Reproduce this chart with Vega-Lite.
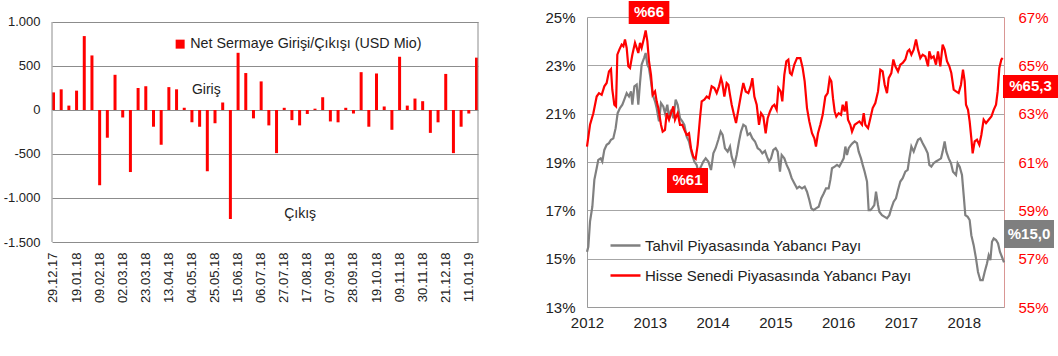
{
  "$schema": "https://vega.github.io/schema/vega-lite/v6.json",
  "background": "white",
  "padding": {"left": 3, "top": 1, "right": 0, "bottom": 0},
  "spacing": 65,
  "config": {
    "font": "Liberation Sans",
    "view": {"stroke": null},
    "axis": {"ticks": false, "labelFont": "Liberation Sans"},
    "legend": {"labelFont": "Liberation Sans", "labelLimit": 500}
  },
  "resolve": {"scale": {"color": "independent"}, "legend": {"color": "independent"}},
  "datasets": {
    "flows": [
      {"d": "29.12.17", "v": 200}, {"d": "05.01.18", "v": 235}, {"d": "12.01.18", "v": 50}, {"d": "19.01.18", "v": 220},
      {"d": "26.01.18", "v": 840}, {"d": "02.02.18", "v": 620}, {"d": "09.02.18", "v": -855}, {"d": "16.02.18", "v": -315},
      {"d": "23.02.18", "v": 400}, {"d": "02.03.18", "v": -85}, {"d": "09.03.18", "v": -705}, {"d": "16.03.18", "v": 250},
      {"d": "23.03.18", "v": 270}, {"d": "30.03.18", "v": -190}, {"d": "06.04.18", "v": -395}, {"d": "13.04.18", "v": 260},
      {"d": "20.04.18", "v": 235}, {"d": "27.04.18", "v": 25}, {"d": "04.05.18", "v": -140}, {"d": "11.05.18", "v": -190},
      {"d": "18.05.18", "v": -695}, {"d": "25.05.18", "v": -150}, {"d": "01.06.18", "v": 85}, {"d": "08.06.18", "v": -1240},
      {"d": "15.06.18", "v": 650}, {"d": "22.06.18", "v": 420}, {"d": "29.06.18", "v": -95}, {"d": "06.07.18", "v": 325},
      {"d": "13.07.18", "v": -175}, {"d": "20.07.18", "v": -490}, {"d": "27.07.18", "v": 25}, {"d": "03.08.18", "v": -115},
      {"d": "10.08.18", "v": -175}, {"d": "17.08.18", "v": -45}, {"d": "24.08.18", "v": 15}, {"d": "31.08.18", "v": 145},
      {"d": "07.09.18", "v": -130}, {"d": "14.09.18", "v": -140}, {"d": "21.09.18", "v": 25}, {"d": "28.09.18", "v": -40},
      {"d": "05.10.18", "v": 430}, {"d": "12.10.18", "v": -190}, {"d": "19.10.18", "v": 415}, {"d": "26.10.18", "v": 40},
      {"d": "02.11.18", "v": -225}, {"d": "09.11.18", "v": 605}, {"d": "16.11.18", "v": 50}, {"d": "23.11.18", "v": 130},
      {"d": "30.11.18", "v": 100}, {"d": "07.12.18", "v": -260}, {"d": "14.12.18", "v": -140}, {"d": "21.12.18", "v": 410},
      {"d": "28.12.18", "v": -490}, {"d": "04.01.19", "v": -190}, {"d": "11.01.19", "v": -40}, {"d": "18.01.19", "v": 595}
    ],
    "notes": [
      {"d": "04.05.18", "v": 230, "t": "Giriş"},
      {"d": "27.07.18", "v": -1180, "t": "Çıkış"}
    ],
    "bond": [
      {"t":2012.000,"v":15.28},{"t":2012.021,"v":15.49},{"t":2012.048,"v":16.53},{"t":2012.085,"v":17.15},{"t":2012.117,"v":18.26},
      {"t":2012.154,"v":18.74},{"t":2012.180,"v":19.09},{"t":2012.218,"v":19.15},{"t":2012.244,"v":19.02},{"t":2012.276,"v":19.50},
      {"t":2012.313,"v":19.71},{"t":2012.350,"v":19.78},{"t":2012.382,"v":19.92},{"t":2012.419,"v":19.98},{"t":2012.456,"v":20.40},
      {"t":2012.488,"v":21.02},{"t":2012.525,"v":21.23},{"t":2012.563,"v":21.37},{"t":2012.594,"v":21.58},{"t":2012.632,"v":21.85},
      {"t":2012.669,"v":21.71},{"t":2012.701,"v":21.92},{"t":2012.722,"v":21.37},{"t":2012.754,"v":22.13},{"t":2012.791,"v":22.20},
      {"t":2012.817,"v":21.37},{"t":2012.844,"v":22.27},{"t":2012.870,"v":23.03},{"t":2012.908,"v":23.30},{"t":2012.934,"v":23.51},
      {"t":2012.961,"v":23.03},{"t":2012.987,"v":22.89},{"t":2013.019,"v":22.34},{"t":2013.046,"v":21.78},{"t":2013.083,"v":21.51},
      {"t":2013.109,"v":21.23},{"t":2013.146,"v":20.68},{"t":2013.178,"v":21.44},{"t":2013.215,"v":21.30},{"t":2013.242,"v":21.02},
      {"t":2013.279,"v":21.37},{"t":2013.306,"v":20.81},{"t":2013.338,"v":21.16},{"t":2013.375,"v":20.81},{"t":2013.412,"v":21.58},
      {"t":2013.444,"v":21.37},{"t":2013.481,"v":20.81},{"t":2013.518,"v":20.68},{"t":2013.550,"v":20.54},{"t":2013.587,"v":20.05},
      {"t":2013.624,"v":19.85},{"t":2013.667,"v":19.36},{"t":2013.709,"v":19.02},{"t":2013.746,"v":18.88},{"t":2013.773,"v":18.60},
      {"t":2013.815,"v":18.81},{"t":2013.852,"v":19.02},{"t":2013.890,"v":19.15},{"t":2013.932,"v":19.02},{"t":2013.975,"v":18.67},
      {"t":2014.012,"v":19.36},{"t":2014.049,"v":19.57},{"t":2014.091,"v":19.92},{"t":2014.128,"v":20.26},{"t":2014.160,"v":20.12},
      {"t":2014.197,"v":19.57},{"t":2014.240,"v":19.43},{"t":2014.277,"v":19.64},{"t":2014.304,"v":19.22},{"t":2014.346,"v":18.88},
      {"t":2014.383,"v":19.29},{"t":2014.420,"v":19.85},{"t":2014.452,"v":20.26},{"t":2014.489,"v":20.54},{"t":2014.527,"v":20.47},
      {"t":2014.558,"v":20.12},{"t":2014.596,"v":20.19},{"t":2014.633,"v":19.98},{"t":2014.675,"v":19.85},{"t":2014.718,"v":19.57},
      {"t":2014.755,"v":19.50},{"t":2014.792,"v":19.36},{"t":2014.834,"v":19.46},{"t":2014.866,"v":19.22},{"t":2014.898,"v":19.02},
      {"t":2014.930,"v":19.15},{"t":2014.967,"v":19.50},{"t":2015.004,"v":19.57},{"t":2015.036,"v":19.43},{"t":2015.073,"v":18.60},
      {"t":2015.100,"v":19.29},{"t":2015.142,"v":19.15},{"t":2015.179,"v":18.88},{"t":2015.217,"v":18.67},{"t":2015.259,"v":18.33},
      {"t":2015.301,"v":18.12},{"t":2015.344,"v":17.91},{"t":2015.381,"v":17.98},{"t":2015.424,"v":17.91},{"t":2015.466,"v":17.98},
      {"t":2015.503,"v":17.77},{"t":2015.540,"v":17.43},{"t":2015.572,"v":17.08},{"t":2015.609,"v":17.01},{"t":2015.646,"v":17.08},
      {"t":2015.689,"v":17.15},{"t":2015.731,"v":17.50},{"t":2015.769,"v":17.70},{"t":2015.806,"v":17.91},{"t":2015.848,"v":17.91},
      {"t":2015.875,"v":18.26},{"t":2015.901,"v":18.74},{"t":2015.944,"v":18.81},{"t":2015.981,"v":18.88},{"t":2016.018,"v":18.81},
      {"t":2016.061,"v":19.02},{"t":2016.087,"v":19.15},{"t":2016.114,"v":19.64},{"t":2016.140,"v":19.29},{"t":2016.167,"v":19.57},
      {"t":2016.204,"v":19.71},{"t":2016.230,"v":19.78},{"t":2016.262,"v":19.85},{"t":2016.299,"v":19.78},{"t":2016.326,"v":19.43},
      {"t":2016.363,"v":19.15},{"t":2016.390,"v":18.88},{"t":2016.421,"v":18.60},{"t":2016.459,"v":18.19},{"t":2016.485,"v":17.01},
      {"t":2016.512,"v":17.01},{"t":2016.538,"v":17.08},{"t":2016.575,"v":17.22},{"t":2016.602,"v":17.77},{"t":2016.634,"v":17.22},
      {"t":2016.655,"v":16.94},{"t":2016.697,"v":16.80},{"t":2016.740,"v":16.73},{"t":2016.777,"v":16.67},{"t":2016.814,"v":16.80},
      {"t":2016.846,"v":17.08},{"t":2016.883,"v":17.36},{"t":2016.920,"v":17.50},{"t":2016.952,"v":17.84},{"t":2016.989,"v":18.19},
      {"t":2017.027,"v":18.33},{"t":2017.069,"v":18.60},{"t":2017.106,"v":18.67},{"t":2017.133,"v":19.15},{"t":2017.165,"v":19.64},
      {"t":2017.202,"v":19.43},{"t":2017.239,"v":19.71},{"t":2017.271,"v":19.92},{"t":2017.308,"v":19.98},{"t":2017.345,"v":19.78},
      {"t":2017.388,"v":19.57},{"t":2017.425,"v":19.36},{"t":2017.451,"v":18.88},{"t":2017.483,"v":18.81},{"t":2017.520,"v":18.95},
      {"t":2017.557,"v":19.02},{"t":2017.600,"v":19.09},{"t":2017.637,"v":19.15},{"t":2017.663,"v":19.43},{"t":2017.695,"v":19.85},
      {"t":2017.722,"v":19.43},{"t":2017.759,"v":19.15},{"t":2017.796,"v":18.95},{"t":2017.828,"v":18.60},{"t":2017.876,"v":18.46},
      {"t":2017.902,"v":18.95},{"t":2017.934,"v":18.81},{"t":2017.971,"v":18.46},{"t":2017.998,"v":17.63},{"t":2018.024,"v":16.80},
      {"t":2018.062,"v":16.73},{"t":2018.093,"v":16.60},{"t":2018.120,"v":15.97},{"t":2018.157,"v":15.56},{"t":2018.194,"v":15.01},
      {"t":2018.226,"v":14.45},{"t":2018.263,"v":14.11},{"t":2018.301,"v":14.11},{"t":2018.332,"v":14.45},{"t":2018.369,"v":14.80},
      {"t":2018.396,"v":15.14},{"t":2018.423,"v":14.94},{"t":2018.449,"v":15.70},{"t":2018.476,"v":15.84},{"t":2018.513,"v":15.77},
      {"t":2018.545,"v":15.63},{"t":2018.576,"v":15.28},{"t":2018.608,"v":15.07},{"t":2018.640,"v":14.85}
    ],
    "equity": [
      {"t":2012.000,"v":61.64},{"t":2012.048,"v":62.54},{"t":2012.101,"v":63.02},{"t":2012.154,"v":63.71},{"t":2012.191,"v":63.85},
      {"t":2012.234,"v":63.78},{"t":2012.276,"v":64.13},{"t":2012.313,"v":64.27},{"t":2012.350,"v":64.75},{"t":2012.382,"v":64.85},
      {"t":2012.403,"v":63.99},{"t":2012.435,"v":63.37},{"t":2012.462,"v":63.30},{"t":2012.483,"v":65.44},{"t":2012.515,"v":65.65},
      {"t":2012.552,"v":65.86},{"t":2012.579,"v":65.79},{"t":2012.605,"v":66.07},{"t":2012.632,"v":65.72},{"t":2012.658,"v":64.96},
      {"t":2012.685,"v":64.89},{"t":2012.722,"v":65.44},{"t":2012.764,"v":65.93},{"t":2012.791,"v":65.72},{"t":2012.817,"v":65.51},
      {"t":2012.844,"v":65.93},{"t":2012.870,"v":65.72},{"t":2012.908,"v":66.13},{"t":2012.934,"v":66.44},{"t":2012.961,"v":66.00},
      {"t":2012.987,"v":65.17},{"t":2013.019,"v":64.61},{"t":2013.046,"v":63.78},{"t":2013.083,"v":63.92},{"t":2013.109,"v":63.51},
      {"t":2013.136,"v":63.23},{"t":2013.178,"v":62.54},{"t":2013.205,"v":62.26},{"t":2013.242,"v":62.33},{"t":2013.269,"v":63.02},
      {"t":2013.306,"v":62.75},{"t":2013.338,"v":63.02},{"t":2013.375,"v":63.30},{"t":2013.401,"v":62.75},{"t":2013.444,"v":63.02},
      {"t":2013.481,"v":62.54},{"t":2013.518,"v":62.54},{"t":2013.550,"v":62.33},{"t":2013.587,"v":62.12},{"t":2013.624,"v":62.19},
      {"t":2013.656,"v":61.57},{"t":2013.693,"v":61.22},{"t":2013.730,"v":61.13},{"t":2013.762,"v":61.71},{"t":2013.799,"v":62.81},
      {"t":2013.826,"v":63.51},{"t":2013.868,"v":63.58},{"t":2013.906,"v":63.71},{"t":2013.943,"v":63.64},{"t":2013.985,"v":64.13},
      {"t":2014.028,"v":64.06},{"t":2014.065,"v":63.85},{"t":2014.102,"v":64.13},{"t":2014.134,"v":64.47},{"t":2014.155,"v":64.27},
      {"t":2014.187,"v":63.71},{"t":2014.224,"v":64.27},{"t":2014.251,"v":64.20},{"t":2014.277,"v":63.78},{"t":2014.304,"v":63.37},
      {"t":2014.341,"v":62.95},{"t":2014.373,"v":62.61},{"t":2014.410,"v":63.16},{"t":2014.452,"v":63.78},{"t":2014.489,"v":64.27},
      {"t":2014.527,"v":63.92},{"t":2014.569,"v":63.85},{"t":2014.606,"v":64.13},{"t":2014.633,"v":64.47},{"t":2014.665,"v":63.71},
      {"t":2014.702,"v":63.37},{"t":2014.739,"v":62.54},{"t":2014.771,"v":63.02},{"t":2014.808,"v":62.88},{"t":2014.845,"v":62.19},
      {"t":2014.877,"v":62.81},{"t":2014.914,"v":63.09},{"t":2014.951,"v":63.30},{"t":2014.983,"v":63.37},{"t":2015.020,"v":63.16},
      {"t":2015.047,"v":64.06},{"t":2015.084,"v":63.92},{"t":2015.110,"v":63.51},{"t":2015.142,"v":64.61},{"t":2015.174,"v":65.17},
      {"t":2015.206,"v":65.24},{"t":2015.232,"v":64.68},{"t":2015.259,"v":64.61},{"t":2015.301,"v":65.03},{"t":2015.344,"v":65.30},
      {"t":2015.397,"v":65.30},{"t":2015.434,"v":64.89},{"t":2015.466,"v":64.34},{"t":2015.503,"v":63.23},{"t":2015.540,"v":62.68},
      {"t":2015.583,"v":62.19},{"t":2015.620,"v":61.98},{"t":2015.646,"v":61.64},{"t":2015.678,"v":62.19},{"t":2015.715,"v":62.54},
      {"t":2015.753,"v":62.95},{"t":2015.795,"v":63.71},{"t":2015.832,"v":63.85},{"t":2015.864,"v":64.47},{"t":2015.891,"v":64.34},
      {"t":2015.917,"v":63.64},{"t":2015.944,"v":63.09},{"t":2015.970,"v":62.88},{"t":2016.007,"v":63.02},{"t":2016.045,"v":62.95},
      {"t":2016.071,"v":63.37},{"t":2016.103,"v":63.09},{"t":2016.130,"v":63.51},{"t":2016.156,"v":62.75},{"t":2016.193,"v":62.54},
      {"t":2016.220,"v":62.26},{"t":2016.262,"v":62.54},{"t":2016.299,"v":62.61},{"t":2016.337,"v":62.68},{"t":2016.379,"v":62.54},
      {"t":2016.406,"v":63.02},{"t":2016.432,"v":62.54},{"t":2016.475,"v":62.40},{"t":2016.512,"v":62.81},{"t":2016.549,"v":63.23},
      {"t":2016.591,"v":63.44},{"t":2016.634,"v":63.92},{"t":2016.671,"v":64.82},{"t":2016.708,"v":64.75},{"t":2016.740,"v":64.20},
      {"t":2016.777,"v":63.85},{"t":2016.804,"v":64.47},{"t":2016.846,"v":64.68},{"t":2016.878,"v":65.24},{"t":2016.910,"v":64.96},
      {"t":2016.952,"v":64.75},{"t":2016.989,"v":65.03},{"t":2017.027,"v":65.10},{"t":2017.069,"v":65.24},{"t":2017.106,"v":65.58},
      {"t":2017.133,"v":65.65},{"t":2017.165,"v":65.44},{"t":2017.202,"v":65.65},{"t":2017.239,"v":66.07},{"t":2017.271,"v":65.65},
      {"t":2017.308,"v":65.30},{"t":2017.345,"v":65.44},{"t":2017.388,"v":65.37},{"t":2017.430,"v":64.96},{"t":2017.451,"v":65.58},
      {"t":2017.483,"v":65.30},{"t":2017.520,"v":65.37},{"t":2017.557,"v":65.03},{"t":2017.589,"v":65.58},{"t":2017.626,"v":64.96},
      {"t":2017.663,"v":65.86},{"t":2017.695,"v":65.65},{"t":2017.732,"v":65.17},{"t":2017.770,"v":64.96},{"t":2017.801,"v":64.68},
      {"t":2017.839,"v":63.99},{"t":2017.876,"v":63.92},{"t":2017.918,"v":63.85},{"t":2017.955,"v":64.20},{"t":2017.987,"v":64.82},
      {"t":2018.014,"v":64.34},{"t":2018.035,"v":63.37},{"t":2018.067,"v":63.16},{"t":2018.093,"v":62.68},{"t":2018.120,"v":61.98},
      {"t":2018.141,"v":61.36},{"t":2018.173,"v":61.85},{"t":2018.210,"v":61.92},{"t":2018.247,"v":61.71},{"t":2018.279,"v":62.12},
      {"t":2018.316,"v":62.75},{"t":2018.354,"v":62.61},{"t":2018.396,"v":62.75},{"t":2018.439,"v":62.88},{"t":2018.476,"v":63.16},
      {"t":2018.513,"v":63.37},{"t":2018.539,"v":63.92},{"t":2018.566,"v":64.89},{"t":2018.598,"v":65.24},{"t":2018.619,"v":65.30}
    ],
    "boxes": [
      {"label": "%66", "kind": "H", "x0": 2012.664, "x1": 2013.311, "y0": 25.66, "y1": 24.71, "xc": 2012.987, "yc": 25.19},
      {"label": "%61", "kind": "H", "x0": 2013.274, "x1": 2013.927, "y0": 18.75, "y1": 17.72, "xc": 2013.600, "yc": 18.24},
      {"label": "%65,3", "kind": "H", "x0": 2018.624, "x1": 2019.50, "y0": 22.60, "y1": 21.65, "xc": 2019.062, "yc": 22.125},
      {"label": "%15,0", "kind": "T", "x0": 2018.640, "x1": 2019.436, "y0": 16.60, "y1": 15.44, "xc": 2019.038, "yc": 16.02}
    ]
  },
  "hconcat": [
    {
      "width": 426,
      "height": 225,
      "layer": [
        {
          "data": {"name": "flows"},
          "mark": {"type": "bar"},
          "encoding": {
            "x": {"field": "d", "type": "ordinal", "sort": null, "title": null,
              "scale": {"paddingInner": 0.61, "paddingOuter": 0},
              "axis": {"values": ["29.12.17","19.01.18","09.02.18","02.03.18","23.03.18","13.04.18","04.05.18","25.05.18","15.06.18","06.07.18","27.07.18","17.08.18","07.09.18","28.09.18","19.10.18","09.11.18","30.11.18","21.12.18","11.01.19"],
                "labelAngle": 270, "labelFontSize": 13, "labelColor": "#222", "labelPadding": 10, "domain": false}},
            "y": {"field": "v", "type": "quantitative", "title": null,
              "scale": {"domain": [-1500, 1056.8], "nice": false},
              "axis": {"values": [-1500, -1000, -500, 0, 500, 1000], "labelExpr": "replace(replace(datum.label, ',', '.'), '\u2212', '-')",
                "gridColor": "#8c8c8c", "labelFontSize": 13, "labelColor": "#222", "labelPadding": 12, "domain": false}},
            "color": {"datum": "Net Sermaye Girişi/Çıkışı (USD Mio)", "type": "nominal",
              "scale": {"range": ["#ff0000"]},
              "legend": {"orient": "none", "legendX": 121, "legendY": 20, "title": null, "symbolType": "square", "symbolSize": 81,
                "symbolStrokeWidth": 0, "labelFontSize": 14.3, "labelColor": "#222", "labelOffset": 3}}
          }
        },
        {
          "data": {"values": [{"d": "29.12.17"}]},
          "mark": {"type": "rule", "color": "#8c8c8c", "strokeWidth": 1},
          "encoding": {
            "x": {"field": "d", "type": "ordinal", "sort": null, "bandPosition": 0},
            "y": {"datum": -1500, "type": "quantitative"},
            "y2": {"datum": 1000}
          }
        },
        {
          "data": {"values": [{"d": "18.01.19"}]},
          "mark": {"type": "rule", "color": "#8c8c8c", "strokeWidth": 1},
          "encoding": {
            "x": {"field": "d", "type": "ordinal", "sort": null, "bandPosition": 1},
            "y": {"datum": -1500, "type": "quantitative"},
            "y2": {"datum": 1000}
          }
        },
        {
          "data": {"name": "notes"},
          "mark": {"type": "text", "align": "left", "baseline": "middle", "fontSize": 14, "color": "#222"},
          "encoding": {
            "x": {"field": "d", "type": "ordinal", "sort": null, "title": null},
            "y": {"field": "v", "type": "quantitative", "title": null},
            "text": {"field": "t"}
          }
        }
      ]
    },
    {
      "width": 417,
      "height": 290,
      "resolve": {"scale": {"y": "independent"}},
      "layer": [
        {
          "layer": [
            {
              "data": {"name": "bond"},
              "mark": {"type": "line", "strokeWidth": 2.2},
              "encoding": {
                "x": {"field": "t", "type": "quantitative", "title": null,
                  "scale": {"domain": [2012, 2018.64], "nice": false, "zero": false},
                  "axis": {"values": [2012, 2013, 2014, 2015, 2016, 2017, 2018], "format": "d", "labelFlush": false, "labelFontSize": 15,
                    "labelColor": "#222", "labelPadding": 8, "grid": false, "domainColor": "#9a9a9a"}},
                "y": {"field": "v", "type": "quantitative", "title": null,
                  "scale": {"domain": [13, 25], "nice": false, "zero": false},
                  "axis": {"values": [13, 15, 17, 19, 21, 23, 25], "labelExpr": "datum.value + '%'", "gridColor": "#a6a6a6",
                    "labelFontSize": 15, "labelColor": "#222", "labelPadding": 12, "domainColor": "#9a9a9a"}},
                "color": {"datum": "Tahvil Piyasasında Yabancı Payı", "type": "nominal",
                  "scale": {"domain": ["Tahvil Piyasasında Yabancı Payı", "Hisse Senedi Piyasasında Yabancı Payı"], "range": ["#808080", "#ff0000"]},
                  "legend": {"orient": "none", "legendX": 22, "legendY": 212, "title": null, "symbolType": "stroke", "symbolSize": 900,
                    "symbolStrokeWidth": 2.5, "labelFontSize": 15, "labelColor": "#222", "labelOffset": 3, "rowPadding": 5}}
              }
            },
            {
              "data": {"name": "boxes"},
              "mark": {"type": "rect"},
              "encoding": {
                "x": {"field": "x0", "type": "quantitative", "title": null},
                "x2": {"field": "x1"},
                "y": {"field": "y0", "type": "quantitative", "title": null},
                "y2": {"field": "y1"},
                "fill": {"field": "kind", "type": "nominal", "scale": {"domain": ["H", "T"], "range": ["#ff0000", "#7f7f7f"]}, "legend": null}
              }
            },
            {
              "data": {"name": "boxes"},
              "mark": {"type": "text", "color": "white", "fontWeight": "bold", "fontSize": 15, "align": "center", "baseline": "middle"},
              "encoding": {
                "x": {"field": "xc", "type": "quantitative", "title": null},
                "y": {"field": "yc", "type": "quantitative", "title": null},
                "text": {"field": "label"}
              }
            }
          ]
        },
        {
          "data": {"name": "equity"},
          "mark": {"type": "line", "strokeWidth": 2.2},
          "encoding": {
            "x": {"field": "t", "type": "quantitative", "title": null},
            "y": {"field": "v", "type": "quantitative", "title": null,
              "scale": {"domain": [55, 67], "nice": false, "zero": false},
              "axis": {"orient": "right", "values": [55, 57, 59, 61, 63, 65, 67], "labelExpr": "datum.value + '%'", "labelColor": "#ff0000",
                "labelFontSize": 15, "labelPadding": 14, "grid": false, "domainColor": "#d99694"}},
            "color": {"datum": "Hisse Senedi Piyasasında Yabancı Payı", "type": "nominal"}
          }
        }
      ]
    }
  ]
}
